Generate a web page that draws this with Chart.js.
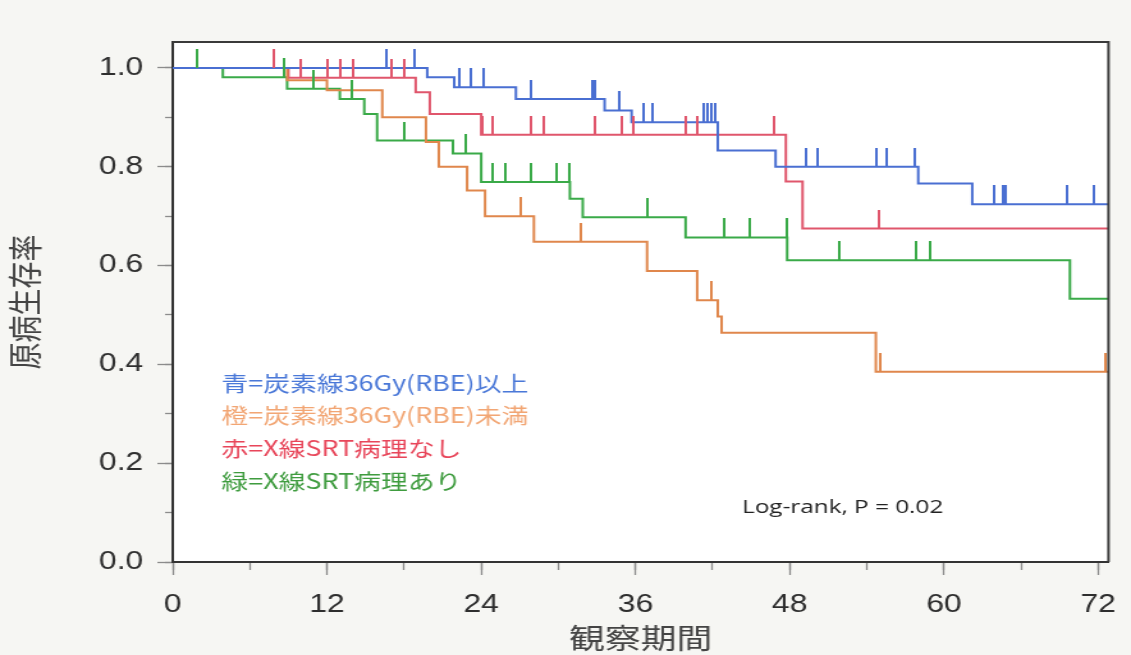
<!DOCTYPE html>
<html lang="ja">
<head>
<meta charset="utf-8">
<title>原病生存率</title>
<script src="https://cdn.jsdelivr.net/npm/chart.js@4.4.1/dist/chart.umd.min.js"></script>
<style>
  html, body { margin: 0; padding: 0; background: #f6f6f3; overflow: hidden; }
  /* the figure is laid out on a narrower canvas and widened horizontally */
  #wrap { position: absolute; left: 0; top: 0; width: 884px; height: 655px;
          transform: scaleX(1.27941); transform-origin: 0 0; }
</style>
</head>
<body>
<div id="wrap"><canvas id="km"></canvas></div>
<script>
// ---- Kaplan–Meier steps: month of each step and survival after it ----
const blueTimes   = [0, 19.8, 21.9, 26.7, 33.6, 35.7, 42.4, 46.9, 58.0, 62.2, 72.8];
const blueSurv    = [1.0, 0.981, 0.961, 0.937, 0.914, 0.890, 0.833, 0.800, 0.766, 0.724, 0.724];
const orangeTimes = [0, 8.9, 12.0, 16.3, 19.7, 20.7, 22.9, 24.3, 28.1, 36.9, 40.8, 42.4, 42.7, 54.7, 72.8];
const orangeSurv  = [1.0, 0.975, 0.955, 0.900, 0.850, 0.800, 0.752, 0.700, 0.648, 0.589, 0.530, 0.497, 0.464, 0.385, 0.385];
const redTimes    = [0, 9.0, 18.9, 20.0, 24.0, 47.7, 49.0, 72.8];
const redSurv     = [1.0, 0.980, 0.951, 0.907, 0.865, 0.770, 0.675, 0.675];
const greenTimes  = [0, 3.9, 8.9, 13.0, 14.9, 15.9, 21.8, 24.0, 30.9, 31.9, 39.9, 47.8, 69.8, 72.8];
const greenSurv   = [1.0, 0.981, 0.958, 0.937, 0.907, 0.853, 0.827, 0.769, 0.735, 0.698, 0.657, 0.611, 0.533, 0.533];

// ---- censored observations: month and survival level of each tick ----
const blueCensorT   = [16.6, 18.8, 22.3, 23.2, 24.2, 27.9, 32.6, 32.8, 34.7, 36.6, 37.3, 41.3, 41.6, 41.9, 42.2,
                       49.3, 50.2, 54.7, 55.5, 57.7, 63.9, 64.6, 64.8, 69.6, 71.7];
const blueCensorS   = [1.0, 1.0, 0.961, 0.961, 0.961, 0.937, 0.937, 0.937, 0.914, 0.890, 0.890, 0.890, 0.890, 0.890, 0.890,
                       0.800, 0.800, 0.800, 0.800, 0.800, 0.724, 0.724, 0.724, 0.724, 0.724];
const orangeCensorT = [27.1, 31.8, 41.9, 55.0, 72.6];
const orangeCensorS = [0.700, 0.648, 0.530, 0.385, 0.385];
const redCensorT    = [7.9, 10.0, 12.0, 13.0, 14.0, 17.0, 18.0, 24.1, 24.9, 27.9, 28.9, 32.8, 34.9, 35.8, 39.9, 40.8, 46.8, 54.9];
const redCensorS    = [1.0, 0.980, 0.980, 0.980, 0.980, 0.980, 0.980, 0.865, 0.865, 0.865, 0.865, 0.865, 0.865, 0.865, 0.865, 0.865, 0.865, 0.675];
const greenCensorT  = [1.9, 8.7, 10.9, 13.9, 18.0, 22.8, 24.9, 25.9, 27.9, 29.9, 30.9, 36.9, 42.9, 44.9, 47.8, 51.9, 57.8, 58.9];
const greenCensorS  = [1.0, 0.981, 0.958, 0.937, 0.853, 0.827, 0.769, 0.769, 0.769, 0.769, 0.769, 0.698, 0.657, 0.657, 0.657, 0.611, 0.611, 0.611];

// ---- axes ----
const xTicks      = [0, 12, 24, 36, 48, 60, 72];
const xMinorTicks = [0, 6, 12, 18, 24, 30, 36, 42, 48, 54, 60, 66, 72];
const yTicks      = [0, 0.2, 0.4, 0.6, 0.8, 1.0];
const yMinorTicks = [0, 0.1, 0.2, 0.3, 0.4, 0.5, 0.6, 0.7, 0.8, 0.9, 1.0];
const xTitle = '観察期間';
const yTitle = '原病生存率';

// ---- group labels and annotation ----
const groupLabels = ['青=炭素線36Gy(RBE)以上', '橙=炭素線36Gy(RBE)未満', '赤=X線SRT病理なし', '緑=X線SRT病理あり'];
const labelColors = ['#4a78d8', '#f2a674', '#e8465a', '#3f9c3f'];
const lineColors  = ['#4a6fd2', '#e0874c', '#e0566c', '#3aaa48'];
const testLabel = 'Log-rank, P = 0.02';

const pageBg = '#f6f6f3';

function steps(times, surv) { return times.map((t, i) => ({ x: t, y: surv[i] })); }

// upward censor tick: only the upper half of the image is painted
function tickMark(color) {
  const c = document.createElement('canvas');
  c.width = 2; c.height = 38;
  const g = c.getContext('2d');
  g.fillStyle = color;
  g.fillRect(0, 0, 2, 19);
  return c;
}

const curveSets = [
  [blueTimes, blueSurv, blueCensorT, blueCensorS],
  [orangeTimes, orangeSurv, orangeCensorT, orangeCensorS],
  [redTimes, redSurv, redCensorT, redCensorS],
  [greenTimes, greenSurv, greenCensorT, greenCensorS]
];

const datasets = [];
curveSets.forEach((s, i) => {
  datasets.push({
    type: 'line', label: groupLabels[i], data: steps(s[0], s[1]),
    stepped: true, borderColor: lineColors[i], borderWidth: 2,
    pointRadius: 0, fill: false, order: 2
  });
  datasets.push({
    type: 'scatter', label: groupLabels[i] + ' censored', data: steps(s[2], s[3]),
    pointStyle: tickMark(lineColors[i]), pointRadius: 3, showLine: false, order: 1
  });
});

const figurePlugin = {
  id: 'figure',
  beforeDraw(chart) {
    const { ctx, chartArea: a, width, height } = chart;
    ctx.save();
    ctx.fillStyle = pageBg;
    ctx.fillRect(0, 0, width, height);
    ctx.fillStyle = '#ffffff';
    ctx.fillRect(a.left, a.top, a.right - a.left, a.bottom - a.top);
    ctx.restore();
  },
  afterDraw(chart) {
    const { ctx, chartArea: a } = chart;
    ctx.save();
    // top and right edges of the plot frame
    ctx.strokeStyle = '#3a3a3a';
    ctx.lineWidth = 2;
    ctx.beginPath();
    ctx.moveTo(a.left, a.top);
    ctx.lineTo(a.right, a.top);
    ctx.lineTo(a.right, a.bottom);
    ctx.stroke();

    // group key
    ctx.font = '21px "Noto Sans CJK JP"';
    ctx.textBaseline = 'middle';
    ctx.textAlign = 'left';
    const keyY = [383, 415, 448, 481];
    groupLabels.forEach((t, i) => {
      ctx.fillStyle = labelColors[i];
      ctx.fillText(t, 173, keyY[i]);
    });

    // test result
    ctx.font = '19px "Open Sans"';
    ctx.fillStyle = '#222222';
    ctx.fillText(testLabel, 580, 508);
    ctx.restore();
  }
};

const tickFont = { family: '"Liberation Sans", Arial, sans-serif', size: 25 };

new Chart(document.getElementById('km'), {
  data: { datasets },
  options: {
    responsive: true,
    maintainAspectRatio: false,
    devicePixelRatio: 1,
    animation: false,
    layout: { padding: { left: 0, right: 17.6, top: 42, bottom: 0 } },
    plugins: { legend: { display: false }, tooltip: { enabled: false } },
    scales: {
      x: {
        type: 'linear', position: 'bottom', min: 0, max: 72.8, weight: 0,
        afterFit(s) { s.height = 93; s.paddingLeft = 0; s.paddingRight = 0; },
        afterBuildTicks(s) { s.ticks = xTicks.map(v => ({ value: v })); },
        ticks: { font: tickFont, color: '#2e2e2e', padding: 15, maxRotation: 0, autoSkip: false,
                 callback: v => String(v) },
        grid: { drawOnChartArea: false, drawTicks: true, tickLength: 13, tickColor: '#8c8c8c', tickWidth: 1.3 },
        border: { display: true, color: '#333333', width: 2 },
        title: { display: true, text: xTitle, color: '#444444',
                 font: { family: '"Noto Sans CJK JP"', size: 28 }, padding: { top: 0, bottom: 0 } }
      },
      xMinor: {
        type: 'linear', position: 'bottom', min: 0, max: 72.8, weight: -1,
        afterFit(s) { s.height = 0; s.paddingLeft = 0; s.paddingRight = 0; },
        afterBuildTicks(s) { s.ticks = xMinorTicks.map(v => ({ value: v })); },
        ticks: { display: false },
        grid: { drawOnChartArea: false, drawTicks: true, tickLength: 8, tickColor: '#8c8c8c', tickWidth: 1.3 },
        border: { display: false }
      },
      y: {
        type: 'linear', position: 'left', min: 0, max: 1.0525, weight: 0,
        afterFit(s) { s.width = 135; s.paddingTop = 0; s.paddingBottom = 0; },
        afterBuildTicks(s) { s.ticks = yTicks.map(v => ({ value: v })); },
        ticks: { font: tickFont, color: '#2e2e2e', padding: 11, autoSkip: false,
                 callback: v => Number(v).toFixed(1) },
        grid: { drawOnChartArea: false, drawTicks: true, tickLength: 12, tickColor: '#8c8c8c', tickWidth: 1.3 },
        border: { display: true, color: '#333333', width: 2 },
        title: { display: true, text: yTitle, color: '#444444',
                 font: { family: '"Noto Sans CJK JP"', size: 27 }, padding: { top: 4, bottom: 0 } }
      },
      yMinor: {
        type: 'linear', position: 'left', min: 0, max: 1.0525, weight: -1,
        afterFit(s) { s.width = 0; s.paddingTop = 0; s.paddingBottom = 0; },
        afterBuildTicks(s) { s.ticks = yMinorTicks.map(v => ({ value: v })); },
        ticks: { display: false },
        grid: { drawOnChartArea: false, drawTicks: true, tickLength: 6, tickColor: '#8c8c8c', tickWidth: 1.3 },
        border: { display: false }
      }
    }
  },
  plugins: [figurePlugin]
});
</script>
</body>
</html>
